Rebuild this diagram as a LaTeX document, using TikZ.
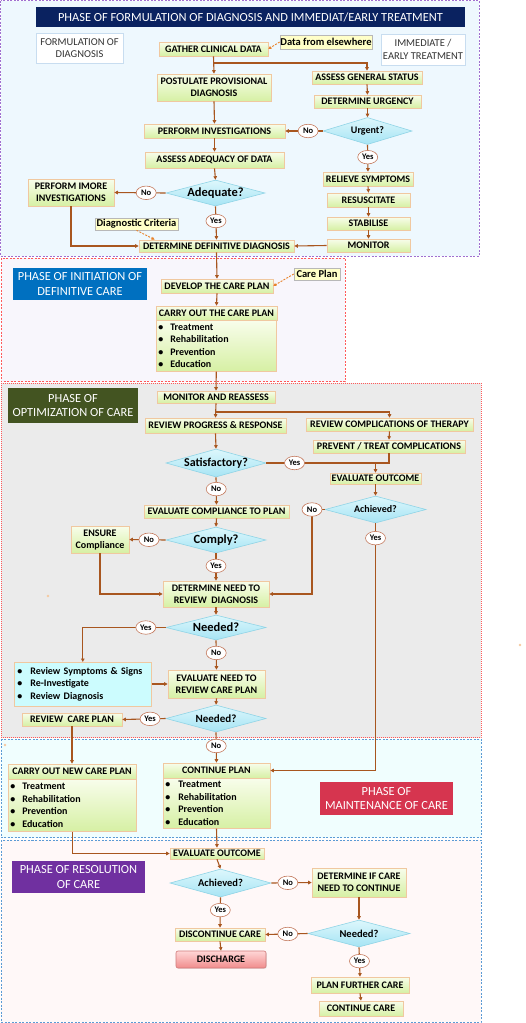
\documentclass[tikz,border=0pt]{standalone}
\usepackage{fontspec}
\setmainfont{Carlito}
\usetikzlibrary{shapes.geometric,arrows.meta,shadows}
\definecolor{arrc}{HTML}{A8561F}
\definecolor{noteor}{HTML}{E8822A}
\definecolor{boxline}{HTML}{F0C8A0}
\definecolor{boxtop}{HTML}{F8FDEB}
\definecolor{boxbot}{HTML}{D6F0A4}
\definecolor{dialine}{HTML}{90D4E6}
\definecolor{diatop}{HTML}{DDF7FC}
\definecolor{diabot}{HTML}{A6E4F4}
\definecolor{lblline}{HTML}{C47A5E}
\definecolor{noteyel}{HTML}{FFFFC8}
\definecolor{notegray}{HTML}{B8B8B8}
\definecolor{navy}{HTML}{0A2260}
\definecolor{initblue}{HTML}{0070C0}
\definecolor{optgreen}{HTML}{435421}
\definecolor{mainred}{HTML}{D6354F}
\definecolor{respurple}{HTML}{7030A0}
\definecolor{sOne}{HTML}{EEF8FE}
\definecolor{sTwo}{HTML}{F8F6FC}
\definecolor{sThree}{HTML}{EBEBEB}
\definecolor{sFour}{HTML}{F0FEFE}
\definecolor{sFive}{HTML}{FFF8F8}
\definecolor{purpline}{HTML}{A070D0}
\definecolor{redline}{HTML}{FF5A5A}
\definecolor{blueline}{HTML}{5B9BD5}
\definecolor{sideline}{HTML}{C8DDF0}
\definecolor{cyanbox}{HTML}{CCFCFE}
\definecolor{cyanline}{HTML}{F0C8A0}
\definecolor{dtop}{HTML}{FFD6D6}
\definecolor{dbot}{HTML}{F08C8C}
\definecolor{dline}{HTML}{D07A7A}
\definecolor{dotc}{HTML}{F5C9A0}
\newcommand\blt[1]{\makebox[#1][l]{\textbullet}}
\begin{document}
\begin{tikzpicture}[x=1pt,y=1pt,
  ln/.style={draw=arrc, line width=1.1pt},
  arr/.style={ln, -{Triangle[length=3.5pt,width=3.5pt]}},
  darr/.style={draw=noteor, line width=0.9pt, dash pattern=on 2pt off 1.3pt, -{Triangle[length=3pt,width=3pt]}},
  box/.style={draw=boxline, line width=0.6pt, top color=boxtop, bottom color=boxbot, font=\bfseries\fontsize{10}{12}\selectfont, align=center, inner sep=0.5pt, text=black, drop shadow={opacity=0.18, shadow xshift=0.8pt, shadow yshift=-0.8pt}},
  body/.style={draw=boxline, line width=0.6pt, top color=boxtop, bottom color=boxbot, font=\bfseries\fontsize{10}{12.4}\selectfont, align=left, inner ysep=1pt, anchor=north west, drop shadow={opacity=0.18, shadow xshift=0.8pt, shadow yshift=-0.8pt}},
  dia/.style={diamond, draw=dialine, line width=0.6pt, top color=diatop, bottom color=diabot, inner sep=0pt},
  dtxt/.style={font=\bfseries\fontsize{#1}{#1}\selectfont, inner sep=0pt},
  lbl/.style={ellipse, draw=lblline, fill=white, line width=0.6pt, inner sep=0pt, minimum width=20pt, minimum height=13.5pt, font=\bfseries\fontsize{8.5}{9}\selectfont},
  note/.style={fill=noteyel, draw=notegray, line width=0.5pt, font=\bfseries\fontsize{10.5}{12}\selectfont, inner sep=0.5pt, drop shadow={opacity=0.3, shadow xshift=0.8pt, shadow yshift=-0.8pt}},
  banner/.style={text=white, align=center, font=\fontsize{12.4}{14.5}\selectfont, inner sep=0pt},
  side/.style={draw=sideline, fill=white, line width=0.6pt, align=center, font=\fontsize{10.5}{12.5}\selectfont, text=black!80, inner sep=0pt},
  strayd/.style={fill=dotc, draw=none}
]
\useasboundingbox (0,0) rectangle (525,-1023);
% ---------- phase panels ----------
\draw[fill=sOne, draw=purpline, line width=0.6pt, dash pattern=on 2pt off 1.5pt] (0.5,-0.5) rectangle (479,-256);
\draw[fill=sTwo, draw=redline, line width=0.6pt, dash pattern=on 2pt off 1.5pt] (1,-258) rectangle (345,-381.5);
\draw[fill=sThree, draw=redline, line width=0.6pt, dash pattern=on 1pt off 1pt] (1,-383) rectangle (481,-737.5);
\draw[fill=sFour, draw=blueline, line width=0.6pt, dash pattern=on 2pt off 1.5pt] (1,-739) rectangle (481,-837.5);
\draw[fill=sFive, draw=blueline, line width=0.6pt, dash pattern=on 2pt off 1.5pt] (1,-840) rectangle (481,-1022);
\fill[strayd] (48,-596) circle (1.4);
\fill[strayd] (520,-645) circle (1.4);
\fill[strayd] (5,-745) circle (1.4);

% ---------- phase 1 ----------
\node[banner, fill=navy, minimum width=429, minimum height=20] (title) at (250.5,-17) {PHASE OF FORMULATION OF DIAGNOSIS AND IMMEDIAT/EARLY TREATMENT};
\node[side, minimum width=87, minimum height=30] (formb) at (79.5,-48) {FORMULATION OF\\DIAGNOSIS};
\node[side, minimum width=84, minimum height=31] (immb) at (423,-49.5) {IMMEDIATE /\\EARLY TREATMENT};
\node[box, minimum width=109, minimum height=14] (gather) at (213.5,-49) {GATHER CLINICAL DATA};
\node[note, minimum width=92, minimum height=14] (dnote) at (326,-42) {Data from elsewhere};
\node[box, minimum width=114, minimum height=27] (post) at (214,-87.5) {POSTULATE PROVISIONAL\\DIAGNOSIS};
\node[box, minimum width=110, minimum height=13] (assess) at (367,-77.5) {ASSESS GENERAL STATUS};
\node[box, minimum width=107, minimum height=13] (urgency) at (367.5,-101.5) {DETERMINE URGENCY};
\node[dia, minimum width=89, minimum height=27, label={[dtxt=10]center:Urgent?}] (urgent) at (367.5,-131) {};
\node[box, minimum width=141, minimum height=14] (pinv) at (214.5,-131) {PERFORM INVESTIGATIONS};
\node[box, minimum width=139, minimum height=16] (adeq) at (214.5,-160) {ASSESS ADEQUACY OF DATA};
\node[dia, minimum width=99, minimum height=26, label={[dtxt=12.5]center:Adequate?}] (adequate) at (215.5,-193) {};
\node[box, minimum width=86, minimum height=27] (pmore) at (71,-192.5) {PERFORM IMORE\\INVESTIGATIONS};
\node[box, minimum width=90, minimum height=14] (relieve) at (368,-179) {RELIEVE SYMPTOMS};
\node[box, minimum width=83, minimum height=14] (resus) at (368.5,-200) {RESUSCITATE};
\node[box, minimum width=83, minimum height=13] (stab) at (368.5,-223.5) {STABILISE};
\node[box, minimum width=83, minimum height=13] (monitor) at (368.5,-245.5) {MONITOR};
\node[note, minimum width=83, minimum height=12] (dcrit) at (136.5,-224) {Diagnostic Criteria};
\node[box, minimum width=155, minimum height=12] (ddd) at (216.5,-246) {DETERMINE DEFINITIVE DIAGNOSIS};

\coordinate (j1) at (213.5,-63);
\draw[arr] (gather.south) -- (post.north);
\draw[arr] (j1) -| (assess.north);
\draw[darr] (dnote.west) -- (gather.east);
\draw[arr] (assess.south) -- (urgency.north);
\draw[arr] (urgency.south) -- (urgent.north);
\draw[arr] (post.south) -- (pinv.north);
\draw[arr] (urgent.west) -- node[lbl,pos=0.39]{No} (pinv.east);
\draw[arr] (urgent.south) -- node[lbl,pos=0.46]{Yes} (relieve.north);
\draw[arr] (relieve.south) -- (resus.north);
\draw[arr] (resus.south) -- (stab.north);
\draw[arr] (stab.south) -- (monitor.north);
\draw[arr] (pinv.south) -- (adeq.north);
\draw[arr] (adeq.south) -- (adequate.north);
\draw[arr] (adequate.west) -- node[lbl,pos=0.38]{No} (pmore.east);
\draw[arr] (adequate.south) -- node[lbl,pos=0.44]{Yes} (ddd.north);
\draw[arr] (pmore.south) |- (ddd.west);
\draw[arr] (monitor.west) -- (ddd.east);
\draw[darr] (dcrit.south) -- ([xshift=16pt]ddd.north west);

% ---------- phase 2 ----------
\node[banner, fill=initblue, minimum width=134, minimum height=32] (initb) at (80,-284) {PHASE OF INITIATION OF\\DEFINITIVE CARE};
\node[note, minimum width=46, minimum height=12] (cpnote) at (317,-274) {Care Plan};
\node[box, minimum width=112, minimum height=14] (develop) at (217,-286) {DEVELOP THE CARE PLAN};
\node[box, minimum width=121, minimum height=14] (carryh) at (216.5,-313) {CARRY OUT THE CARE PLAN};
\node[body, inner xsep=2pt, text width=116pt, minimum height=51] (carryb) at (156,-320) {\blt{12pt}Treatment\\\blt{12pt}Rehabilitation\\\blt{12pt}Prevention\\\blt{12pt}Education};
\draw[arr] (ddd.south) -- (develop.north);
\draw[darr] (cpnote.west) -- (develop.east);
\draw[arr] (develop.south) -- (carryh.north);

% ---------- phase 3 ----------
\node[banner, fill=optgreen, minimum width=130, minimum height=35] (optb) at (73,-405.5) {PHASE OF\\OPTIMIZATION OF CARE};
\node[box, minimum width=118, minimum height=12] (monre) at (216,-397) {MONITOR AND REASSESS};
\node[box, minimum width=141, minimum height=15] (revprog) at (215.5,-425.5) {REVIEW PROGRESS \& RESPONSE};
\node[box, minimum width=167, minimum height=13] (revcomp) at (389.5,-424.5) {REVIEW COMPLICATIONS OF THERAPY};
\node[box, minimum width=152, minimum height=13] (prevent) at (389,-446.5) {PREVENT / TREAT COMPLICATIONS};
\node[dia, minimum width=100, minimum height=28, label={[dtxt=12]center:Satisfactory?}] (satis) at (216,-463) {};
\node[box, minimum width=91, minimum height=11] (evout) at (375.5,-478.5) {EVALUATE OUTCOME};
\node[box, minimum width=145, minimum height=13] (evcomp) at (216.5,-511.5) {EVALUATE COMPLIANCE TO PLAN};
\node[dia, minimum width=101, minimum height=27, label={[dtxt=10]center:Achieved?}] (ach) at (375.5,-509.5) {};
\node[dia, minimum width=100, minimum height=26, label={[dtxt=12.5]center:Comply?}] (comply) at (216,-540) {};
\node[box, minimum width=58, minimum height=27] (ensure) at (100,-539.5) {ENSURE\\Compliance};
\node[box, minimum width=106, minimum height=26] (dnrd) at (216,-594) {DETERMINE NEED TO\\REVIEW~~DIAGNOSIS};
\node[dia, minimum width=100, minimum height=25, label={[dtxt=12.5]center:Needed?}] (need1) at (216,-627.5) {};
\node[body, draw=cyanline, top color=cyanbox, bottom color=cyanbox, inner xsep=3pt, text width=131pt, minimum height=44] (revbox) at (14,-662) {\blt{13pt}Review Symptoms \& Signs\\\blt{13pt}Re-Investigate\\\blt{13pt}Review Diagnosis};
\node[box, minimum width=97, minimum height=28] (dnrc) at (216.5,-684) {EVALUATE NEED TO\\REVIEW CARE PLAN};
\node[dia, minimum width=100, minimum height=27, label={[dtxt=11]center:Needed?}] (need2) at (216,-718.5) {};
\node[box, minimum width=100, minimum height=13] (revcare) at (72,-719.5) {REVIEW~~CARE PLAN};

\coordinate (j2) at (216,-412);
\draw[arr] (carryb.south) -- (monre.north);
\draw[arr] (monre.south) -- (revprog.north);
\draw[arr] (j2) -| (revcomp.north);
\draw[arr] (revprog.south) -- (satis.north);
\draw[arr] (revcomp.south) -- (prevent.north);
\draw[ln] (satis.east) -- node[lbl,pos=0.23]{Yes} (prevent.south |- satis.east) -- (prevent.south);
\draw[arr] (evout.north |- satis.east) -- (evout.north);
\draw[arr] (satis.south) -- node[lbl,pos=0.43]{No} (evcomp.north);
\draw[arr] (evout.south) -- (ach.north);
\coordinate (c1) at (312,-509.5);
\draw[arr] (ach.west) -- (c1) |- (dnrd.east);
\node[lbl] at (c1) {No};
\draw[arr] (evcomp.south) -- (comply.north);
\draw[arr] (comply.west) -- node[lbl,pos=0.46]{No} (ensure.east);
\draw[arr] (comply.south) -- node[lbl,pos=0.46]{Yes} (dnrd.north);
\draw[arr] (ensure.south) |- (dnrd.west);
\draw[arr] (dnrd.south) -- (need1.north);
\draw[arr] (need1.west) -- node[lbl,pos=0.24]{Yes} (revbox.north |- need1.west) -- (revbox.north);
\draw[arr] (need1.south) -- node[lbl,pos=0.43]{No} (dnrc.north);
\draw[arr] (revbox.east |- dnrc.west) -- (dnrc.west);
\draw[arr] (dnrc.south) -- (need2.north);
\draw[arr] (need2.west) -- node[lbl,pos=0.36]{Yes} (revcare.east);

% ---------- phase 4 ----------
\node[banner, fill=mainred, minimum width=133, minimum height=33] (maintb) at (386.5,-798.5) {PHASE OF\\MAINTENANCE OF CARE};
\node[box, minimum width=128, minimum height=15] (newh) at (72,-771.5) {CARRY OUT NEW CARE PLAN};
\node[body, inner xsep=2pt, text width=124pt, minimum height=52] (newb) at (8,-779) {\blt{12pt}Treatment\\\blt{12pt}Rehabilitation\\\blt{12pt}Prevention\\\blt{12pt}Education};
\node[box, minimum width=107, minimum height=15] (conth) at (216.5,-770.5) {CONTINUE PLAN};
\node[body, inner xsep=2pt, text width=103pt, minimum height=50] (contb) at (163,-778) {\blt{13pt}Treatment\\\blt{13pt}Rehabilitation\\\blt{13pt}Prevention\\\blt{13pt}Education};
\draw[arr] (need2.south) -- node[lbl,pos=0.45]{No} (conth.north);
\draw[arr] (revcare.south) -- (newh.north);
\draw[arr] (ach.south) -- node[lbl,pos=0.06]{Yes} (ach.south |- conth.east) -- (conth.east);

% ---------- phase 5 ----------
\node[banner, fill=respurple, minimum width=133, minimum height=32] (resb) at (78.5,-877) {PHASE OF RESOLUTION\\OF CARE};
\node[box, minimum width=94, minimum height=11] (evout2) at (217,-853.5) {EVALUATE OUTCOME};
\node[dia, minimum width=101, minimum height=28, label={[dtxt=10.5]center:Achieved?}] (ach2) at (220.5,-883) {};
\node[box, minimum width=94, minimum height=29] (dicn) at (359,-882.5) {DETERMINE IF CARE\\NEED TO CONTINUE};
\node[box, minimum width=90, minimum height=13] (disc) at (220,-934.5) {DISCONTINUE CARE};
\node[dia, minimum width=102, minimum height=27, label={[dtxt=10.5]center:Needed?}] (need3) at (359,-933.5) {};
\node[box, rounded corners=2pt, draw=dline, top color=dtop, bottom color=dbot, minimum width=90, minimum height=17] (dis) at (221,-959.5) {DISCHARGE};
\node[box, minimum width=98, minimum height=16] (pfc) at (360,-985) {PLAN FURTHER CARE};
\node[box, minimum width=84, minimum height=15] (cc) at (361,-1008.5) {CONTINUE CARE};

\draw[arr] (newb.south) |- (evout2.west);
\draw[arr] (contb.south -| conth.south) -- (evout2.north);
\draw[arr] (evout2.south) -- (ach2.north);
\draw[arr] (ach2.east) -- node[lbl,pos=0.41]{No} (dicn.west);
\draw[arr] (ach2.south) -- node[lbl,pos=0.42]{Yes} (disc.north);
\draw[arr] (dicn.south) -- (need3.north);
\draw[arr] (need3.west) -- node[lbl,pos=0.47]{No} (disc.east);
\draw[arr] (disc.south) -- (dis.north);
\draw[arr] (need3.south) -- node[lbl,pos=0.47]{Yes} (pfc.north);
\draw[arr] (pfc.south) -- (cc.north);
\end{tikzpicture}
\end{document}
